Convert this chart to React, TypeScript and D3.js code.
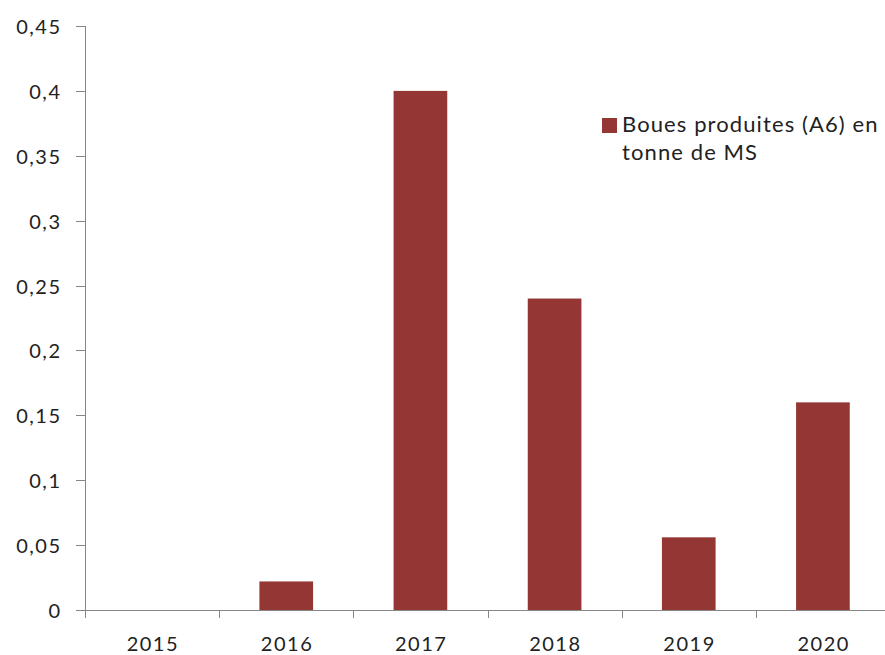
import React, { useEffect, useRef } from 'react';
import * as d3 from 'd3';

const years = ['2015', '2016', '2017', '2018', '2019', '2020'];
const boues = [0, 0.022, 0.4, 0.24, 0.056, 0.16];
const yTicks = [0, 0.05, 0.1, 0.15, 0.2, 0.25, 0.3, 0.35, 0.4, 0.45];
const legendLines = ['Boues produites (A6) en', 'tonne de MS'];

const width = 885;
const height = 655;
const barColor = '#943634';
const axisColor = '#868686';
const font = 'Lato, "Open Sans", sans-serif';

const App: React.FC = () => {
  const svgRef = useRef<SVGSVGElement>(null);

  useEffect(() => {
    const svg = d3.select(svgRef.current);
    svg.selectAll('*').remove();

    const margin = { top: 26, left: 85 };
    const plotBottom = 610;
    const plotRight = 890;

    const x = d3.scaleBand<string>()
      .domain(years)
      .range([margin.left, plotRight])
      .paddingInner(0.6)
      .paddingOuter(0.3);

    const band = (plotRight - margin.left) / years.length;

    const y = d3.scaleLinear()
      .domain([0, 0.45])
      .range([plotBottom, margin.top]);

    // Bars
    svg.append('g')
      .selectAll('rect')
      .data(years.map((yr, i) => ({ yr, v: boues[i] })))
      .enter()
      .append('rect')
      .attr('x', d => x(d.yr) || 0)
      .attr('y', d => y(d.v))
      .attr('width', x.bandwidth())
      .attr('height', d => plotBottom - y(d.v))
      .attr('fill', barColor);

    // Y axis
    const yAxis = svg.append('g');
    yAxis.append('line')
      .attr('x1', margin.left + 0.5).attr('x2', margin.left + 0.5)
      .attr('y1', y(0.45)).attr('y2', plotBottom)
      .attr('stroke', axisColor);
    yAxis.selectAll('.tick')
      .data(yTicks)
      .enter()
      .append('line')
      .attr('x1', margin.left - 9).attr('x2', margin.left)
      .attr('y1', d => Math.round(y(d)) + 0.5).attr('y2', d => Math.round(y(d)) + 0.5)
      .attr('stroke', axisColor);
    yAxis.selectAll('text')
      .data(yTicks)
      .enter()
      .append('text')
      .attr('x', 61.5)
      .attr('y', d => y(d) + 1)
      .attr('dy', '0.35em')
      .attr('text-anchor', 'end')
      .attr('font-family', font)
      .attr('font-size', '20px')
      .attr('letter-spacing', '1.5px')
      .attr('fill', '#222')
      .text(d => String(Number(d.toFixed(2))).replace('.', ','));

    // X axis
    const xAxis = svg.append('g');
    xAxis.append('line')
      .attr('x1', margin.left).attr('x2', plotRight)
      .attr('y1', plotBottom + 0.5).attr('y2', plotBottom + 0.5)
      .attr('stroke', axisColor);
    xAxis.selectAll('.tick')
      .data(d3.range(years.length + 1))
      .enter()
      .append('line')
      .attr('x1', i => Math.round(margin.left + i * band) + 0.5)
      .attr('x2', i => Math.round(margin.left + i * band) + 0.5)
      .attr('y1', plotBottom).attr('y2', plotBottom + 8)
      .attr('stroke', axisColor);
    xAxis.selectAll('text')
      .data(years)
      .enter()
      .append('text')
      .attr('x', d => (x(d) || 0) + x.bandwidth() / 2 + 0.8)
      .attr('y', 651)
      .attr('text-anchor', 'middle')
      .attr('font-family', font)
      .attr('font-size', '20px')
      .attr('letter-spacing', '1.5px')
      .attr('fill', '#222')
      .text(d => d);

    // Legend
    const legend = svg.append('g');
    legend.append('rect')
      .attr('x', 602).attr('y', 118)
      .attr('width', 15).attr('height', 15)
      .attr('fill', barColor);
    legend.selectAll('text')
      .data(legendLines)
      .enter()
      .append('text')
      .attr('x', 622)
      .attr('y', (_, i) => 132 + i * 28)
      .attr('font-family', font)
      .attr('font-size', '22px')
      .attr('letter-spacing', '1.1px')
      .attr('fill', '#222')
      .text(d => d);
  }, []);

  return (
    <svg ref={svgRef} width={width} height={height}
      style={{ position: 'absolute', left: 0, top: 0, background: '#fff' }} />
  );
};

export default App;
